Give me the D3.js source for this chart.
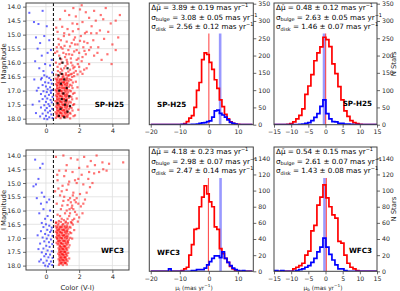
<!DOCTYPE html>
<html>
<head>
<meta charset="utf-8">
<script src="https://cdn.jsdelivr.net/npm/d3@7"></script>
<style>
  body { margin: 0; background: #fff; }
  svg { font-family: "DejaVu Sans", sans-serif; }
</style>
</head>
<body>
<div id="chart"></div>
<script>
// ---- histogram bins: 40 equal bins from -20 to 15 (mas/yr)
var binStart = -20, binWidth = 0.875, binCount = 40;

// counts per bin, index 0 = [-20, -19.125)
var spMuLRed  = [0,0,0,0,0,0,0,0,0,0,0,0,0,3,9,19,26,50,99,122,188,208,203,180,160,130,105,72,52,30,17,8,4,2,1,0,0,0,0,0];
var spMuLBlue = [0,0,0,0,0,0,0,0,0,0,0,0,1,1,0,0,1,1,2,4,5,6,9,11,22,40,42,33,28,22,14,7,4,2,0,0,0,0,0,0];
var spMuBRed  = [0,0,0,0,0,0,0,0,0,0,1,3,8,17,27,46,88,112,145,185,208,225,253,246,226,176,148,110,72,40,24,12,6,3,1,0,0,0,0,0];
var spMuBBlue = [0,0,0,0,0,0,0,0,0,0,0,0,0,0,1,2,4,6,12,21,32,53,72,32,17,9,8,4,4,2,2,1,0,0,0,0,0,0,0,0];
var wfMuLRed  = [0,0,0,0,0,0,0,0,0,0,0,0,1,3,5,20,33,52,53,80,92,106,96,86,80,55,52,28,22,16,11,6,3,1,0,0,0,0,0,0];
var wfMuLBlue = [0,0,0,0,0,0,0,3,0,0,0,0,0,0,0,0,1,1,2,2,2,4,8,12,16,19,19,17,24,16,11,7,4,2,1,0,1,0,0,0];
var wfMuBRed  = [0,0,0,0,0,0,0,0,0,0,0,0,3,5,7,10,20,25,50,57,82,92,107,91,80,70,66,37,35,20,10,5,3,1,0,0,0,0,0,0];
var wfMuBBlue = [0,0,0,0,0,0,1,0,1,0,0,0,0,1,2,3,5,7,11,16,24,30,41,30,21,14,8,3,3,1,0,0,0,0,0,0,0,0,0,0];

// mean lines (bulge = red, disk = blue)
var meansRed  = [0.0, 0.05, -0.15, 0.24];
var meansBlue = [3.89, -0.43, 4.03, -0.30];

// fit results shown in the boxes
var deltaMu  = ["3.89 \u00b1 0.19", "0.48 \u00b1 0.12", "4.18 \u00b1 0.23", "0.54 \u00b1 0.15"];
var sigBulge = ["3.08 \u00b1 0.05", "2.63 \u00b1 0.05", "2.98 \u00b1 0.07", "2.61 \u00b1 0.07"];
var sigDisk  = ["2.56 \u00b1 0.12", "1.46 \u00b1 0.07", "2.47 \u00b1 0.14", "1.43 \u00b1 0.08"];

// tick labels
var cmdXTicks = [0, 2, 4];
var cmdYTicks = [14.0, 14.5, 15.0, 15.5, 16.0, 16.5, 17.0, 17.5, 18.0];
var muLTicks = [-20, -10, 0, 10];
var muBTicks = [-15, -10, -5, 0, 5, 10, 15];
var spCountTicks = [0, 50, 100, 150, 200, 250, 300, 350];
var wfCountTicks = [0, 20, 40, 60, 80, 100, 120, 140];
var colorCut = 0.45;

// ---- CMD points, [V-I, I]
var spBlue = [[-1.0,14.22],[-0.72,14.55],[-0.45,14.62],[-0.2,14.15],[0.05,14.7],[-0.6,15.1],[-0.35,15.3],[-0.1,15.05],[0.2,15.2],[0.3,15.55],
  [-0.5,15.5],[-0.25,15.75],[0.1,15.65],[0.35,15.9],[-0.65,15.95],[-0.05,16.05],[0.25,16.1],[-0.4,16.2],[-0.15,16.3],[0.38,16.35],
  [-0.1,16.45],[0.05,16.5],[0.2,16.55],[-0.3,16.6],[0.3,16.62],[-0.05,16.7],[0.15,16.72],[0.35,16.75],[-0.2,16.8],[0.0,16.85],
  [0.25,16.88],[-0.45,16.9],[0.1,16.95],[0.38,16.98],[-0.15,17.02],[0.05,17.05],[0.3,17.08],[-0.3,17.12],[0.18,17.15],[-0.05,17.2],
  [0.4,17.22],[0.08,17.28],[-0.2,17.3],[0.28,17.33],[-0.4,17.38],[0.0,17.4],[0.35,17.42],[0.15,17.48],[-0.1,17.52],[0.22,17.55],
  [-0.3,17.6],[0.05,17.62],[0.38,17.65],[-0.05,17.7],[0.25,17.72],[0.12,17.78],[-0.2,17.82],[0.32,17.85],[0.0,17.9],[-0.35,17.92],
  [0.2,17.95],[0.4,17.98],[-0.1,18.0],[0.08,18.02],[-0.7,16.6],[-0.55,17.0],[-0.8,17.5],[-0.6,17.8],[-0.25,16.55],[0.28,17.0]];

var spRed = [[1.65,14.05],[2.05,14.1],[2.4,14.2],[2.9,14.15],[3.3,14.3],[3.6,14.05],[2.6,14.4],[3.0,14.5],[3.45,14.45],[3.9,14.6],
  [4.2,14.5],[2.2,14.55],[1.8,14.35],[2.75,14.7],[3.25,14.85],[3.75,14.9],[4.35,15.1],[2.45,14.9],[1.95,14.8],[3.5,15.15],
  [4.0,15.35],[2.85,15.2],[3.15,15.45],[4.2,15.55],[3.7,15.7],[2.6,15.55],[1.6,14.6],[1.4,14.3],[1.15,14.15],[0.85,14.45],
  [3.05,14.95],[2.3,15.25],[3.95,16.05],[3.35,15.9],[4.45,14.3],[2.15,13.95],
  [0.7,14.9],[1.1,14.95],[1.4,15.0],[1.75,15.1],[2.1,15.05],[0.9,15.2],[1.25,15.25],[1.55,15.3],[1.9,15.35],[2.25,15.45],
  [0.65,15.45],[1.0,15.5],[1.35,15.55],[1.7,15.6],[2.0,15.65],[2.4,15.7],[0.8,15.75],[1.15,15.8],[1.5,15.85],[1.85,15.9],
  [2.15,15.95],[0.95,16.0],[1.3,16.05],[1.6,16.1],[2.0,16.15],[0.7,16.15],[1.1,16.2],[1.45,16.25],[1.8,16.3],[2.3,16.25],
  [0.85,16.35],[1.2,16.38],[1.05,15.65],[1.75,15.35],[0.6,16.0],[1.95,15.85],[1.25,15.9],[0.9,15.45],[1.55,16.4],[2.5,15.3],
  [1.4,15.7],[0.75,15.15],[2.6,16.05],[1.65,16.2],[2.2,16.4],
  [0.72,16.3],[0.98,16.28],[1.35,16.32],[1.68,16.36],[1.9,16.42],[0.82,16.05],[1.18,16.12],[1.52,16.0],[1.72,16.15],[2.08,16.32],
  [0.68,15.6],[0.92,15.88],[1.22,15.7],[1.58,15.72],[1.85,15.55],[2.2,15.8],[0.78,15.35],[1.12,15.4],[1.45,15.42],[1.68,15.18],
  [2.05,15.22],[0.62,14.75],[0.98,14.72],[1.3,14.8],[1.62,14.88],[1.88,14.62],[2.35,14.95],[2.7,15.45],[2.9,15.75],[2.45,16.2],
  [1.02,16.42],[1.38,16.45],[0.9,16.22],[1.28,15.98],[2.32,15.58],[0.55,15.65],[1.08,15.05],[1.92,16.05],[2.72,14.95],[3.1,15.65],
  [0.62,16.43],[0.78,16.47],[0.93,16.41],[1.05,16.49],[1.2,16.44],[1.33,16.46],[1.48,16.42],[1.7,16.48],
  [0.58,16.57],[0.72,16.53],[0.86,16.58],[1.0,16.52],[1.12,16.56],[1.27,16.54],[1.41,16.59],[1.58,16.51],
  [0.65,16.63],[0.8,16.67],[0.95,16.61],[1.08,16.69],[1.22,16.64],[1.36,16.66],[1.52,16.62],[1.8,16.68],
  [0.6,16.77],[0.74,16.73],[0.88,16.78],[1.02,16.72],[1.15,16.76],[1.3,16.74],[1.45,16.79],[1.62,16.71],
  [0.67,16.83],[0.82,16.87],[0.97,16.81],[1.1,16.89],[1.24,16.84],[1.38,16.86],[1.55,16.82],[1.9,16.88],
  [0.58,16.97],[0.71,16.93],[0.85,16.98],[0.99,16.92],[1.13,16.96],[1.27,16.94],[1.42,16.99],[1.6,16.91],
  [0.63,17.03],[0.77,17.07],[0.91,17.01],[1.05,17.09],[1.19,17.04],[1.34,17.06],[1.5,17.02],[1.72,17.08],
  [0.6,17.17],[0.73,17.13],[0.87,17.18],[1.01,17.12],[1.15,17.16],[1.29,17.14],[1.44,17.19],[1.63,17.11],
  [0.66,17.23],[0.8,17.27],[0.94,17.21],[1.08,17.29],[1.22,17.24],[1.37,17.26],[1.53,17.22],[1.85,17.28],
  [0.57,17.37],[0.7,17.33],[0.84,17.38],[0.98,17.32],[1.12,17.36],[1.26,17.34],[1.41,17.39],[1.58,17.31],
  [0.64,17.43],[0.78,17.47],[0.92,17.41],[1.06,17.49],[1.2,17.44],[1.35,17.46],[1.5,17.42],[1.7,17.48],
  [0.6,17.57],[0.74,17.53],[0.88,17.58],[1.02,17.52],[1.16,17.56],[1.3,17.54],[1.45,17.59],[1.64,17.51],
  [0.67,17.63],[0.81,17.67],[0.95,17.61],[1.09,17.69],[1.23,17.64],[1.38,17.66],[1.54,17.62],[1.95,17.68],
  [0.58,17.77],[0.72,17.73],[0.86,17.78],[1.0,17.72],[1.14,17.76],[1.28,17.74],[1.43,17.79],[1.6,17.71],
  [0.63,17.83],[0.77,17.87],[0.91,17.81],[1.05,17.89],[1.19,17.84],[1.33,17.86],[1.48,17.82],[1.75,17.88],
  [0.6,17.97],[0.74,17.93],[0.88,17.98],[1.02,17.92],[1.16,17.96],[1.3,17.94],[1.46,17.99],[1.66,17.91],
  [0.69,16.6],[0.83,16.62],[0.97,16.59],[1.12,16.61],[1.26,16.6],[0.66,16.7],[0.81,16.71],[0.95,16.69],[1.1,16.7],[1.25,16.72],
  [0.7,16.8],[0.84,16.79],[0.98,16.81],[1.13,16.8],[1.27,16.79],[0.67,16.9],[0.82,16.91],[0.96,16.89],[1.11,16.9],[1.24,16.92],
  [0.69,17.0],[0.83,16.99],[0.97,17.01],[1.12,17.0],[1.28,16.99],[0.66,17.1],[0.8,17.11],[0.95,17.09],[1.09,17.1],[1.23,17.11],
  [0.7,17.2],[0.84,17.19],[0.98,17.21],[1.13,17.2],[1.27,17.19],[0.67,17.3],[0.81,17.31],[0.96,17.29],[1.1,17.3],[1.25,17.31],
  [0.69,17.4],[0.83,17.39],[0.97,17.41],[1.12,17.4],[1.27,17.39],[0.66,17.5],[0.8,17.51],[0.95,17.49],[1.09,17.5],[1.24,17.51],
  [0.7,17.6],[0.84,17.59],[0.98,17.61],[1.13,17.6],[1.28,17.59],[0.67,17.7],[0.81,17.71],[0.96,17.69],[1.1,17.7],[1.25,17.71],
  [0.69,17.8],[0.83,17.79],[0.97,17.81],[1.12,17.8],[1.27,17.79],[0.66,17.9],[0.8,17.91],[0.95,17.89],[1.09,17.9],[1.24,17.91]];

var spBlack = [[0.85,15.85],[1.0,16.0],[1.3,16.2],[0.75,16.45],[1.1,16.6],[0.9,16.75],[1.25,16.9],[0.8,17.0],[1.05,17.1],[1.4,17.2],
  [0.95,17.3],[0.7,17.45],[1.15,17.5],[0.88,17.65],[1.3,17.75],[0.78,17.9],[1.1,17.95],[1.45,17.55],[0.95,16.4],[1.2,17.35]];

var wfBlue = [[-0.65,14.15],[-0.2,14.3],[-0.35,14.45],[-0.45,14.85],[-0.75,15.12],[-0.6,15.05],[-0.25,15.35],[-0.1,15.5],[-0.55,15.55],[0.05,15.7],
  [-0.3,15.75],[0.2,15.6],[-0.15,15.95],[0.25,16.0],[-0.4,16.1],[0.1,16.2],[-0.05,16.3],[0.3,16.35],[-0.25,16.45],
  [0.0,16.5],[0.2,16.55],[-0.15,16.6],[0.35,16.62],[0.08,16.7],[-0.3,16.75],[0.25,16.78],[-0.05,16.85],[0.15,16.9],[0.4,16.92],
  [-0.2,16.98],[0.05,17.02],[0.3,17.05],[-0.1,17.12],[0.18,17.15],[-0.35,17.2],[0.38,17.22],[0.02,17.28],[0.22,17.32],[-0.15,17.38],
  [0.1,17.45],[0.35,17.48],[-0.25,17.52],[0.0,17.58],[0.25,17.6],[-0.1,17.66],[0.15,17.7],[0.4,17.72],[-0.3,17.78],[0.05,17.82],
  [0.3,17.85],[-0.15,17.9],[0.2,17.94],[0.38,17.98],[-0.05,18.0],[0.12,18.03],[-0.5,16.9],[-0.45,17.4],[-0.4,17.85],[0.32,16.72]];

var wfRed = [[0.6,14.05],[1.05,14.0],[1.5,14.1],[1.9,14.15],[2.3,14.05],[2.7,14.2],[3.05,14.0],[3.4,14.25],[3.8,14.3],[4.65,14.25],
  [3.45,14.5],[2.5,14.4],[2.0,14.45],[1.25,14.35],[0.8,14.55],[1.6,14.6],[2.15,14.7],[2.9,14.65],[1.1,14.75],[2.55,14.85],
  [0.7,14.9],[1.4,14.95],[1.85,15.0],[2.25,15.05],[1.0,15.1],[2.65,15.15],[0.55,15.3],[1.25,15.25],[1.65,15.35],[2.05,15.4],
  [0.85,15.45],[1.45,15.55],[2.35,15.6],[1.05,15.65],[1.8,15.7],[0.65,15.75],[1.3,15.8],[2.1,15.85],[0.9,15.95],[1.55,15.9],
  [1.75,16.05],[1.15,16.1],[0.7,16.15],[1.4,16.2],[2.0,16.25],[0.95,16.3],[1.6,16.35],[1.2,16.4],[0.6,16.45],[1.85,15.55],
  [1.5,15.7],[1.95,14.85],[3.2,14.6],[2.8,15.0],[0.75,15.2],[1.65,15.95],[1.45,16.1],[1.85,16.15],[1.3,16.3],[0.85,16.2],
  [1.35,15.62],[1.58,15.82],[1.72,15.62],[1.95,15.75],[1.42,15.95],[1.7,16.3],[1.92,16.4],[1.08,16.35],[0.78,16.38],[1.55,16.45],
  [1.25,16.0],[0.98,15.82],[2.2,16.1],[1.62,15.45],[1.35,15.05],[0.95,15.3],[2.45,15.35],[1.75,14.9],[1.2,14.55],[0.68,14.7],
  [2.6,14.6],[2.95,14.35],[3.65,14.55],[1.1,15.5],[2.25,15.75],
  [0.62,16.43],[0.76,16.47],[0.9,16.41],[1.04,16.49],[1.18,16.44],[1.32,16.46],[1.5,16.42],
  [0.58,16.57],[0.71,16.53],[0.85,16.58],[0.99,16.52],[1.13,16.56],[1.27,16.54],[1.42,16.59],[1.62,16.51],
  [0.64,16.63],[0.78,16.67],[0.92,16.61],[1.06,16.69],[1.2,16.64],[1.34,16.66],[1.48,16.62],
  [0.6,16.77],[0.73,16.73],[0.87,16.78],[1.01,16.72],[1.15,16.76],[1.29,16.74],[1.44,16.79],[1.7,16.71],
  [0.66,16.83],[0.8,16.87],[0.94,16.81],[1.08,16.89],[1.22,16.84],[1.36,16.86],[1.52,16.82],
  [0.62,16.97],[0.75,16.93],[0.89,16.98],[1.03,16.92],[1.17,16.96],[1.31,16.94],[1.46,16.99],
  [0.68,17.03],[0.82,17.07],[0.96,17.01],[1.1,17.09],[1.24,17.04],[1.38,17.06],[1.58,17.02],
  [0.64,17.17],[0.77,17.13],[0.91,17.18],[1.05,17.12],[1.19,17.16],[1.33,17.14],
  [0.7,17.23],[0.84,17.27],[0.98,17.21],[1.12,17.29],[1.26,17.24],[1.42,17.26],
  [0.76,17.37],[0.88,17.33],[1.0,17.38],[1.12,17.32],[1.24,17.36],[1.36,17.34],
  [0.8,17.43],[0.92,17.47],[1.04,17.41],[1.16,17.49],[1.28,17.44],
  [0.74,17.57],[0.86,17.53],[0.98,17.58],[1.1,17.52],[1.22,17.56],[1.34,17.54],
  [0.8,17.63],[0.92,17.67],[1.04,17.61],[1.16,17.69],[1.28,17.64],
  [0.76,17.77],[0.88,17.73],[1.0,17.78],[1.12,17.72],[1.24,17.76],[1.4,17.74],
  [0.82,17.83],[0.94,17.87],[1.06,17.81],[1.18,17.89],[1.3,17.84],
  [0.78,17.97],[0.9,17.93],[1.02,17.98],[1.14,17.92],[1.26,17.96],
  [0.69,16.6],[0.83,16.62],[0.97,16.59],[1.12,16.61],[1.26,16.6],[0.66,16.7],[0.81,16.71],[0.95,16.69],[1.1,16.7],[1.25,16.72],
  [0.7,16.8],[0.84,16.79],[0.98,16.81],[1.13,16.8],[1.27,16.79],[0.67,16.9],[0.82,16.91],[0.96,16.89],[1.11,16.9],[1.24,16.92],
  [0.69,17.0],[0.83,16.99],[0.97,17.01],[1.12,17.0],[1.28,16.99],[0.72,17.1],[0.86,17.11],[1.0,17.09],[1.14,17.1],[1.3,17.11],
  [0.77,17.2],[0.91,17.19],[1.05,17.21],[1.19,17.2],[1.33,17.19],[0.82,17.3],[0.94,17.31],[1.06,17.29],[1.18,17.3],
  [0.86,17.4],[0.98,17.39],[1.1,17.41],[1.22,17.4],[0.8,17.5],[0.92,17.51],[1.04,17.49],[1.16,17.5],
  [0.86,17.6],[0.98,17.59],[1.1,17.61],[1.22,17.6],[0.82,17.7],[0.94,17.71],[1.06,17.69],[1.18,17.7],
  [0.86,17.8],[0.98,17.79],[1.1,17.81],[1.22,17.8],[0.82,17.9],[0.94,17.91],[1.06,17.89],[1.18,17.9]];

var svg = d3.select("#chart").append("svg").attr("width", 400).attr("height", 291);
var frameColor = "#444", textColor = "#262626";

function styleAxis(g) {
  g.select(".domain").remove();
  g.selectAll(".tick line").attr("stroke", frameColor).attr("stroke-width", 0.8);
  g.selectAll(".tick text").attr("fill", textColor).style("font-size", "6.2px")
    .style("font-family", "DejaVu Sans, sans-serif");
}

function clip(id, x0, y0, x1, y1) {
  svg.append("clipPath").attr("id", id).append("rect")
    .attr("x", x0).attr("y", y0).attr("width", x1 - x0).attr("height", y1 - y0);
}

function drawCMD(o) {
  var x = d3.scaleLinear().domain([-1.2, 5.0]).range([26, 129]);
  var y = d3.scaleLinear().domain(o.yDomain).range([o.top, o.bottom]);
  var g = svg.append("g");
  // grid
  g.selectAll(null).data(cmdYTicks).enter().append("line")
    .attr("x1", 26).attr("x2", 129).attr("y1", d => y(d)).attr("y2", d => y(d))
    .attr("stroke", "#dedede").attr("stroke-width", 0.8);
  g.selectAll(null).data(cmdXTicks).enter().append("line")
    .attr("y1", o.top).attr("y2", o.bottom).attr("x1", d => x(d)).attr("x2", d => x(d))
    .attr("stroke", "#dedede").attr("stroke-width", 0.8);

  clip(o.id, 26, o.top, 129, o.bottom);
  var pts = g.append("g").attr("clip-path", "url(#" + o.id + ")");
  function dots(data, color, op, s) {
    pts.selectAll(null).data(data).enter().append("rect")
      .attr("x", d => x(d[0]) - s / 2).attr("y", d => y(d[1]) - s / 2)
      .attr("width", s).attr("height", s)
      .attr("fill", color).attr("fill-opacity", op);
  }
  dots(o.blue, "#0000ff", 0.6, 2);
  dots(o.red, "#ff0000", 0.55, 2.2);
  if (o.black) dots(o.black, "#000", 0.85, 2.2);

  // colour cut
  g.append("line").attr("x1", x(colorCut)).attr("x2", x(colorCut))
    .attr("y1", o.top).attr("y2", o.bottom)
    .attr("stroke", "#000").attr("stroke-width", 1).attr("stroke-dasharray", "3,2");

  g.append("rect").attr("x", 26).attr("y", o.top).attr("width", 103).attr("height", o.bottom - o.top)
    .attr("fill", "none").attr("stroke", frameColor).attr("stroke-width", 1);

  g.append("g").attr("transform", "translate(26,0)")
    .call(d3.axisLeft(y).tickValues(cmdYTicks).tickFormat(d3.format(".1f")).tickSize(3).tickPadding(2))
    .call(styleAxis);
  g.append("g").attr("transform", "translate(0," + o.bottom + ")")
    .call(d3.axisBottom(x).tickValues(cmdXTicks).tickFormat(d3.format("d")).tickSize(3).tickPadding(2))
    .call(styleAxis);

  g.append("text").attr("transform", "translate(6," + ((o.top + o.bottom) / 2) + ") rotate(-90)")
    .attr("text-anchor", "middle").style("font-size", "6.8px").attr("fill", textColor)
    .text("I Magnitude");
  g.append("text").attr("x", 124).attr("y", o.labelY).attr("text-anchor", "end")
    .style("font-size", "7.2px").style("font-weight", "bold").attr("fill", "#000").text(o.label);
  if (o.xlabel) {
    g.append("text").attr("x", 77.5).attr("y", 289.5).attr("text-anchor", "middle")
      .style("font-size", "6.8px").attr("fill", textColor).text(o.xlabel);
  }
}

function drawHist(o) {
  var x = d3.scaleLinear().domain(o.xDomain).range([o.left, o.right]);
  var y = d3.scaleLinear().domain([0, o.yMax]).range([o.bottom, o.top]);
  var g = svg.append("g");
  clip(o.id, o.left, o.top, o.right, o.bottom);
  var inner = g.append("g").attr("clip-path", "url(#" + o.id + ")");

  // mean lines, up to 75% of the panel height
  var yLineTop = o.bottom - 0.75 * (o.bottom - o.top);
  inner.append("line").attr("x1", x(o.blueMean)).attr("x2", x(o.blueMean))
    .attr("y1", yLineTop).attr("y2", o.bottom)
    .attr("stroke", "#0000ff").attr("stroke-opacity", 0.4).attr("stroke-width", 2.6);
  inner.append("line").attr("x1", x(o.redMean)).attr("x2", x(o.redMean))
    .attr("y1", yLineTop).attr("y2", o.bottom)
    .attr("stroke", "#ff0000").attr("stroke-opacity", 0.7).attr("stroke-width", 1.1);

  function step(counts) {
    var p = [[binStart, 0]];
    counts.forEach(function (c, i) { p.push([binStart + i * binWidth, c]); });
    p.push([binStart + binCount * binWidth, counts[binCount - 1]]);
    p.push([binStart + binCount * binWidth, 0]);
    return d3.line().x(d => x(d[0])).y(d => y(d[1])).curve(d3.curveStepAfter)(p);
  }
  inner.append("path").attr("d", step(o.red)).attr("fill", "none")
    .attr("stroke", "#ff0000").attr("stroke-width", 1.7).attr("stroke-linejoin", "miter");
  inner.append("path").attr("d", step(o.blue)).attr("fill", "none")
    .attr("stroke", "#0000ff").attr("stroke-width", 1.7).attr("stroke-linejoin", "miter");

  g.append("rect").attr("x", o.left).attr("y", o.top).attr("width", o.right - o.left)
    .attr("height", o.bottom - o.top).attr("fill", "none").attr("stroke", frameColor).attr("stroke-width", 1);

  g.append("g").attr("transform", "translate(0," + o.bottom + ")")
    .call(d3.axisBottom(x).tickValues(o.xTicks).tickFormat(d3.format("d")).tickSize(3).tickPadding(2))
    .call(styleAxis);
  g.append("g").attr("transform", "translate(" + o.right + ",0)")
    .call(d3.axisRight(y).tickValues(o.yTicks).tickFormat(d3.format("d")).tickSize(3).tickPadding(2))
    .call(styleAxis);

  // fit box text
  var t = g.append("g").attr("fill", "#000").style("font-size", "7.2px");
  function line(yy, head, sub, val) {
    var tx = t.append("text").attr("x", o.left + 2).attr("y", yy);
    tx.append("tspan").text(head);
    if (sub) tx.append("tspan").attr("dy", 1.8).style("font-size", "5px").text(sub);
    tx.append("tspan").attr("dy", sub ? -1.8 : 0).text(" = " + val + " mas yr");
    tx.append("tspan").attr("dy", -2.8).style("font-size", "5px").text("\u22121");
  }
  line(o.top + 7, "\u0394\u03bc\u0304", null, o.texts[0]);
  line(o.top + 16.5, "\u03c3", "bulge", o.texts[1]);
  line(o.top + 26, "\u03c3", "disk", o.texts[2]);

  g.append("text").attr("x", o.labelX).attr("y", o.labelY).attr("text-anchor", o.labelAnchor)
    .style("font-size", "7.2px").style("font-weight", "bold").attr("fill", "#000").text(o.label);

  if (o.xlabel) {
    var xl = g.append("text").attr("x", o.xlabelX).attr("y", 289.5).attr("text-anchor", "middle")
      .style("font-size", "5.8px").attr("fill", textColor);
    xl.append("tspan").text("\u03bc");
    xl.append("tspan").attr("dy", 1.5).style("font-size", "4.2px").text(o.xlabel);
    xl.append("tspan").attr("dy", -1.5).text(" (mas yr");
    xl.append("tspan").attr("dy", -2.3).style("font-size", "4.2px").text("\u22121");
    xl.append("tspan").attr("dy", 2.3).text(")");
  }
  if (o.nStars) {
    g.append("text").attr("transform", "translate(396," + ((o.top + o.bottom) / 2) + ") rotate(-90)")
      .attr("text-anchor", "middle").style("font-size", "6.8px").attr("fill", textColor).text("N Stars");
  }
}

// ---- top row: SP-H25
drawCMD({ id: "c1", top: 3, bottom: 124, yDomain: [13.87, 18.19], blue: spBlue, red: spRed, black: spBlack,
  label: "SP-H25", labelY: 106.5 });
drawHist({ id: "h1", left: 149.3, right: 253.3, top: 3, bottom: 124.7, xDomain: [-20.5, 15.3], yMax: 352,
  xTicks: muLTicks, yTicks: spCountTicks, red: spMuLRed, blue: spMuLBlue, redMean: meansRed[0], blueMean: meansBlue[0],
  texts: [deltaMu[0], sigBulge[0], sigDisk[0]], label: "SP-H25", labelX: 157, labelY: 106.5, labelAnchor: "start" });
drawHist({ id: "h2", left: 274, right: 377, top: 3, bottom: 124.7, xDomain: [-15, 15], yMax: 352,
  xTicks: muBTicks, yTicks: spCountTicks, red: spMuBRed, blue: spMuBBlue, redMean: meansRed[1], blueMean: meansBlue[1],
  texts: [deltaMu[1], sigBulge[1], sigDisk[1]], label: "SP-H25", labelX: 372, labelY: 105.5, labelAnchor: "end", nStars: true });

// ---- bottom row: WFC3
drawCMD({ id: "c2", top: 150, bottom: 270, yDomain: [13.8, 18.16], blue: wfBlue, red: wfRed,
  label: "WFC3", labelY: 252.5, xlabel: "Color (V-I)" });
drawHist({ id: "h3", left: 149.3, right: 253.3, top: 147, bottom: 271.3, xDomain: [-20.5, 15.3], yMax: 154,
  xTicks: muLTicks, yTicks: wfCountTicks, red: wfMuLRed, blue: wfMuLBlue, redMean: meansRed[2], blueMean: meansBlue[2],
  texts: [deltaMu[2], sigBulge[2], sigDisk[2]], label: "WFC3", labelX: 157, labelY: 254.5, labelAnchor: "start",
  xlabel: "l", xlabelX: 194 });
drawHist({ id: "h4", left: 274, right: 377, top: 147, bottom: 271.3, xDomain: [-15, 15], yMax: 154,
  xTicks: muBTicks, yTicks: wfCountTicks, red: wfMuBRed, blue: wfMuBBlue, redMean: meansRed[3], blueMean: meansBlue[3],
  texts: [deltaMu[3], sigBulge[3], sigDisk[3]], label: "WFC3", labelX: 372, labelY: 252.5, labelAnchor: "end",
  xlabel: "b", xlabelX: 323, nStars: true });
</script>
</body>
</html>
